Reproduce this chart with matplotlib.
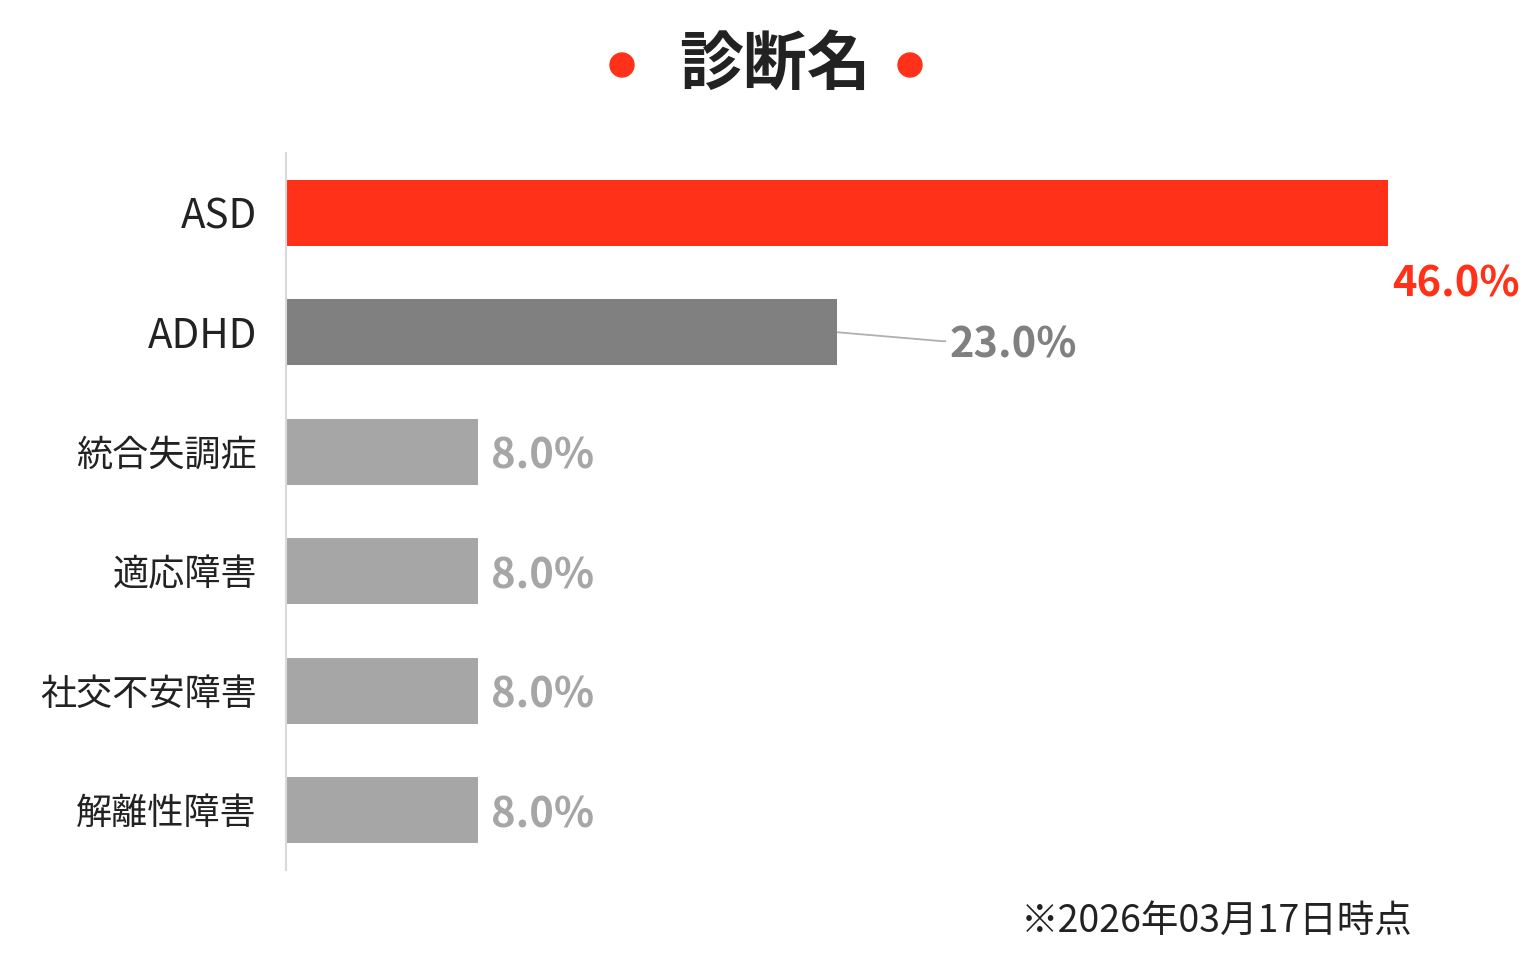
import matplotlib
matplotlib.use('Agg')
import matplotlib.pyplot as plt
from matplotlib.patches import Ellipse

plt.rcParams['font.family'] = ['Noto Sans CJK JP', 'DejaVu Sans']

# データ
labels = ['ASD', 'ADHD', '統合失調症', '適応障害', '社交不安障害', '解離性障害']
values = [46.0, 23.0, 8.0, 8.0, 8.0, 8.0]
colors = ['#ff3118', '#808080', '#a6a6a6', '#a6a6a6', '#a6a6a6', '#a6a6a6']
title = '診断名'
note = '※2026年03月17日時点'

W, H = 1523, 960
fig = plt.figure(figsize=(W / 100, H / 100), dpi=100)
ax = fig.add_axes([286 / W, 90 / H, (W - 286) / W, 717 / H])

pos = list(range(len(labels)))
ax.barh(pos, values, height=0.55, color=colors)
ax.set_ylim(5.5, -0.5)
ax.set_xlim(0, (W - 286) / 23.96)

ax.set_yticks(pos)
ax.set_yticklabels(labels, fontsize=26, color='#222222')
for t in ax.get_yticklabels():
    if t.get_text().isascii():
        t.set_fontsize(29)  # 英字ラベルは少し大きめ
ax.tick_params(axis='y', length=0, pad=21)
ax.set_xticks([])
for s in ['top', 'right', 'bottom']:
    ax.spines[s].set_visible(False)
ax.spines['left'].set_color('#d9d9d9')
ax.spines['left'].set_linewidth(1.5)

fs = 30
for i, (v, c) in enumerate(zip(values, colors)):
    txt = f'{v:.1f}%'
    if i == 0:
        # 最大値はバーの右下に
        ax.text(v + 0.15, i + 0.6, txt, color=c, fontsize=fs, fontweight='bold',
                ha='left', va='center')
    elif i == 1:
        # 引き出し線付き
        ax.plot([v, v + 4.4, v + 4.55], [i, i + 0.075, i + 0.075],
                color='#b0b0b0', lw=1.3, solid_capstyle='butt')
        ax.text(v + 4.7, i + 0.11, txt, color=c, fontsize=fs, fontweight='bold',
                ha='left', va='center')
    else:
        ax.text(v + 0.55, i + 0.04, txt, color=c, fontsize=fs, fontweight='bold',
                ha='left', va='center')

# タイトルと赤い点
fig.text(775 / W, 1 - 65 / H, title, fontsize=46, fontweight='bold',
         color='#222222', ha='center', va='center')
for cx in [622, 910]:
    fig.add_artist(Ellipse((cx / W, 1 - 65 / H), 24 / W, 24 / H,
                           transform=fig.transFigure, color='#ff3118'))

fig.text(1413 / W, 1 - 921 / H, note, fontsize=27, color='#222222',
         ha='right', va='center')

fig.savefig('out.png', dpi=100)
